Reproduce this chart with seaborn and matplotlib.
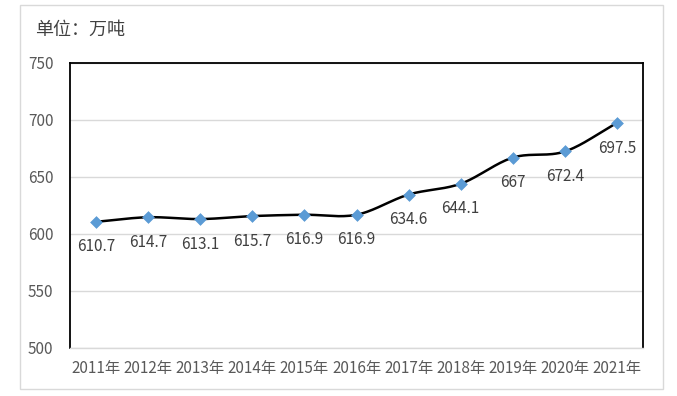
import numpy as np
import pandas as pd
import matplotlib
matplotlib.use('Agg')
import matplotlib.pyplot as plt
from matplotlib.patches import Rectangle
import seaborn as sns

# Data
years = ['2011年', '2012年', '2013年', '2014年', '2015年', '2016年',
         '2017年', '2018年', '2019年', '2020年', '2021年']
values = [610.7, 614.7, 613.1, 615.7, 616.9, 616.9,
          634.6, 644.1, 667, 672.4, 697.5]
y_ticks = [500, 550, 600, 650, 700, 750]

sns.set_theme(style='white')
plt.rcParams['font.family'] = ['Noto Sans CJK SC', 'DejaVu Sans']

df = pd.DataFrame({'year': years, 'value': values, 'pos': range(len(years))})


# smooth curve like a spreadsheet "smoothed line" (Catmull-Rom through the points)
def catmull_rom(x, y, n=30):
    x = np.asarray(x, float)
    y = np.asarray(y, float)
    px = np.concatenate([[2 * x[0] - x[1]], x, [2 * x[-1] - x[-2]]])
    py = np.concatenate([[2 * y[0] - y[1]], y, [2 * y[-1] - y[-2]]])
    xs, ys = [], []
    t = np.linspace(0, 1, n)
    for i in range(1, len(px) - 2):
        for p, out in ((px, xs), (py, ys)):
            p0, p1, p2, p3 = p[i - 1], p[i], p[i + 1], p[i + 2]
            out.extend(0.5 * (2 * p1 + (-p0 + p2) * t
                              + (2 * p0 - 5 * p1 + 4 * p2 - p3) * t ** 2
                              + (-p0 + 3 * p1 - 3 * p2 + p3) * t ** 3))
    return np.array(xs), np.array(ys)


sx, sy = catmull_rom(df['pos'], df['value'])

fig = plt.figure(figsize=(6.77, 3.96), dpi=100)
ax = fig.add_axes([70 / 677, 1 - 348 / 396, 573 / 677, 285 / 396])

sns.lineplot(x=sx, y=sy, ax=ax, color='black', linewidth=1.8, sort=False)
sns.scatterplot(data=df, x='pos', y='value', ax=ax, marker='D', s=36,
                color='#5B9BD5', edgecolor='#5B9BD5', zorder=5)

for i, v in zip(df['pos'], df['value']):
    ax.annotate(f'{v:g}', (i, v), xytext=(0, -12), textcoords='offset points',
                ha='center', va='top', fontsize=11, color='#404040')

ax.set_xlim(-0.5, len(years) - 0.5)
ax.set_ylim(500, 750)
ax.set_yticks(y_ticks)
ax.set_xticks(df['pos'])
ax.set_xticklabels(years)
ax.yaxis.grid(True, color='#D9D9D9', linewidth=1)
ax.set_axisbelow(True)
ax.tick_params(axis='both', length=0, labelsize=11, labelcolor='#595959')
ax.tick_params(axis='x', pad=9)
ax.tick_params(axis='y', pad=12)
ax.set_xlabel('')
ax.set_ylabel('')
for side in ['left', 'top', 'right']:
    ax.spines[side].set_color('black')
    ax.spines[side].set_linewidth(1.3)
ax.spines['bottom'].set_color('#D9D9D9')
ax.spines['bottom'].set_linewidth(1)

fig.text(35 / 677, 1 - 30 / 396, '单位：万吨', fontsize=13, color='#404040',
         va='center', ha='left')

fig.patches.append(Rectangle((20 / 677, 1 - 389 / 396), 643 / 677, 384 / 396,
                             transform=fig.transFigure, fill=False,
                             edgecolor='#D9D9D9', linewidth=1))

fig.savefig('out.png', dpi=100)
